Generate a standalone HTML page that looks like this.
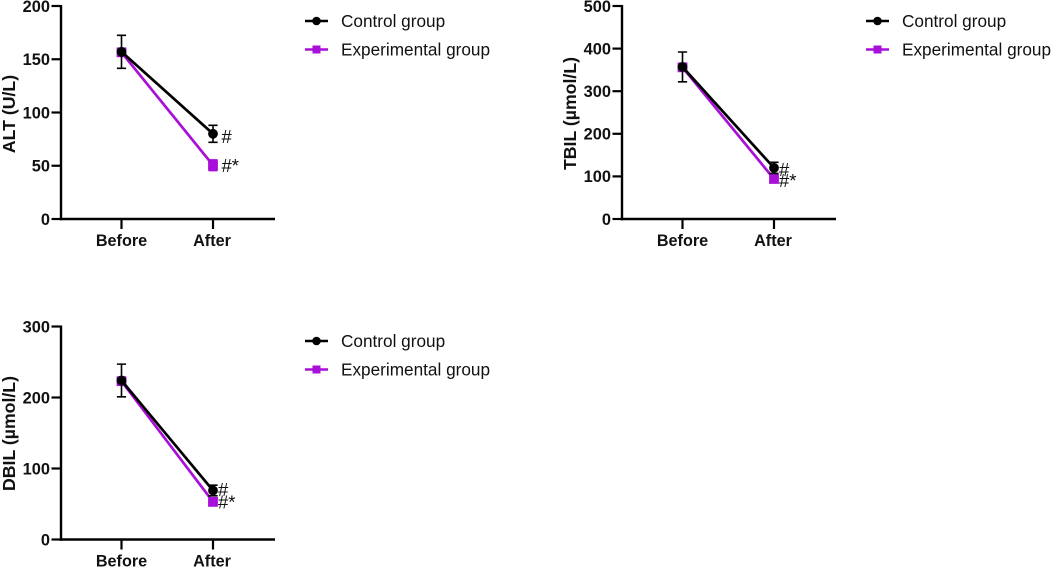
<!DOCTYPE html>
<html lang="en">
<head>
<meta charset="utf-8">
<title>Liver function markers before and after treatment</title>
<style>
html,body{margin:0;padding:0;background:#fff;}
svg{display:block;font-family:"Liberation Sans",Arial,sans-serif;}
</style>
</head>
<body>
<svg id="chart" xmlns="http://www.w3.org/2000/svg" width="1052" height="568" viewBox="0 0 1052 568"></svg>
<script>
var categories = ['Before', 'After'];
var seriesNames = ['Control group', 'Experimental group'];

var altTicks = [0, 50, 100, 150, 200];
var altControl = [157, 80];
var altControlErr = [15.5, 8];
var altExperimental = [156.5, 50.5];
var altExperimentalErr = [2.5, 5];
var altMarks = ['#', '#*'];

var tbilTicks = [0, 100, 200, 300, 400, 500];
var tbilControl = [357, 120];
var tbilControlErr = [35, 13];
var tbilExperimental = [356, 94];
var tbilExperimentalErr = [5, 4];
var tbilMarks = ['#', '#*'];

var dbilTicks = [0, 100, 200, 300];
var dbilControl = [224, 69];
var dbilControlErr = [23, 7.5];
var dbilExperimental = [223, 53];
var dbilExperimentalErr = [3, 3];
var dbilMarks = ['#', '#*'];

var svg = document.getElementById('chart');
var NS = 'http://www.w3.org/2000/svg';
var BLACK = '#000000';
var PURPLE = '#a80fd8';

function add(parent, tag, attrs, text) {
  var el = document.createElementNS(NS, tag);
  for (var k in attrs) el.setAttribute(k, attrs[k]);
  if (text !== undefined) el.textContent = text;
  parent.appendChild(el);
  return el;
}

function drawMarker(g, isSquare, x, y, color) {
  var m;
  if (isSquare) {
    m = add(g, 'rect', {x: x - 4.9, y: y - 4.9, width: 9.8, height: 9.8, fill: color});
  } else {
    m = add(g, 'circle', {cx: x, cy: y, r: 4.9, fill: color});
  }
  return m;
}

function drawPanel(p) {
  var g = add(svg, 'g', {});
  
  

  var top = p.top;
  var bottom = p.top + 213;
  var maxV = p.ticks[p.ticks.length - 1];
  var left = p.left;
  var right = left + 214;
  var xPos = [left + 60.5, left + 152];

  function yScale(v) { return bottom - (v / maxV) * 213; }
  function xScale(i) { return xPos[i]; }

  var yAxis = add(g, 'line', {x1: left, x2: left, y1: top - 1, y2: bottom + 1.2, stroke: BLACK, 'stroke-width': 2.4});
  
  
  var xAxis = add(g, 'line', {x1: left - 1.2, x2: right, y1: bottom, y2: bottom, stroke: BLACK, 'stroke-width': 2.4});
  
  

  p.ticks.forEach(function (t) {
    var y = yScale(t);
    var tick = add(g, 'line', {x1: left - 9.5, x2: left, y1: y, y2: y, stroke: BLACK, 'stroke-width': 2.2});
    
    
    var label = add(g, 'text', {x: left - 11, y: y + 5.8, 'text-anchor': 'end', 'font-size': 16.4, 'font-weight': 'bold', fill: '#111'}, String(t));
    
    
  });

  categories.forEach(function (c, i) {
    var x = xScale(i);
    var tick = add(g, 'line', {x1: x, x2: x, y1: bottom, y2: bottom + 10, stroke: BLACK, 'stroke-width': 2.2});
    
    
    var label = add(g, 'text', {x: x + (i === 0 ? 0 : -1), y: bottom + 27, 'text-anchor': 'middle', 'font-size': 16.2, 'font-weight': 'bold', fill: '#111'}, c);
    
    
  });

  var cy = (top + bottom) / 2 + p.titleOffset;
  var title = add(g, 'text', {x: 0, y: 0, transform: 'translate(' + (left - 46) + ' ' + cy + ') rotate(-90)', 'text-anchor': 'middle', 'font-size': 17.7, 'font-weight': 'bold', fill: '#111'}, p.title);
  
  

  function drawSeries(values, errs, color, isSquare, seriesName) {
    var s = add(g, 'g', {});
    
    
    var pts = values.map(function (v, i) { return xScale(i) + ',' + yScale(v); }).join(' ');
    var line = add(s, 'polyline', {points: pts, fill: 'none', stroke: color, 'stroke-width': 2.7});
    
    
    values.forEach(function (v, i) {
      var x = xScale(i);
      var hi = yScale(v + errs[i]);
      var lo = yScale(v - errs[i]);
      var cap = 4.6;
      var eb = add(s, 'path', {d: 'M' + (x - cap) + ' ' + hi + 'H' + (x + cap) + 'M' + x + ' ' + hi + 'V' + lo + 'M' + (x - cap) + ' ' + lo + 'H' + (x + cap), fill: 'none', stroke: color, 'stroke-width': 1.6});
      
      
      var m = drawMarker(s, isSquare, x, yScale(v), color);
      
      
    });
  }

  drawSeries(p.experimental, p.experimentalErr, PURPLE, true, 'experimental');
  drawSeries(p.control, p.controlErr, BLACK, false, 'control');

  var afterX = xScale(1) + p.markOffset;
  var m1 = add(g, 'text', {x: afterX, y: yScale(p.control[1]) + p.markShift[0], 'font-size': 18.5, fill: '#111'}, p.marks[0]);
  
  
  var m2 = add(g, 'text', {x: afterX, y: yScale(p.experimental[1]) + p.markShift[1], 'font-size': 18.5, fill: '#111'}, p.marks[1]);
  
  

  var lx = p.legendX;
  var ly = p.legendY;
  seriesNames.forEach(function (n, i) {
    var color = i === 0 ? BLACK : PURPLE;
    var y = ly + i * 28.5;
    var le = add(g, 'g', {});
    
    
    add(le, 'line', {x1: lx, x2: lx + 23, y1: y, y2: y, stroke: color, 'stroke-width': 2.4});
    var mk = drawMarker(le, i === 1, lx + 11.5, y, color);
    if (i === 1) { mk.setAttribute('x', lx + 7.5); mk.setAttribute('y', y - 4); mk.setAttribute('width', 8); mk.setAttribute('height', 8); }
    else { mk.setAttribute('r', 4.3); }
    add(le, 'text', {x: lx + 36, y: y + 6, 'font-size': 17.2, fill: '#111'}, n);
  });
}

drawPanel({name: 'alt', title: 'ALT (U/L)', titleOffset: 1.5, left: 61, top: 6, ticks: altTicks,
  control: altControl, controlErr: altControlErr, experimental: altExperimental, experimentalErr: altExperimentalErr,
  marks: altMarks, markOffset: 8.5, markShift: [9, 7], legendX: 305, legendY: 21});
drawPanel({name: 'tbil', title: 'TBIL (\u00b5mol/L)', titleOffset: 1, left: 622, top: 6, ticks: tbilTicks,
  control: tbilControl, controlErr: tbilControlErr, experimental: tbilExperimental, experimentalErr: tbilExperimentalErr,
  marks: tbilMarks, markOffset: 5, markShift: [8, 8], legendX: 866, legendY: 21});
drawPanel({name: 'dbil', title: 'DBIL (\u00b5mol/L)', titleOffset: 0.5, left: 61, top: 326.5, ticks: dbilTicks,
  control: dbilControl, controlErr: dbilControlErr, experimental: dbilExperimental, experimentalErr: dbilExperimentalErr,
  marks: dbilMarks, markOffset: 5, markShift: [5.5, 6.5], legendX: 305, legendY: 341});
</script>
</body>
</html>
